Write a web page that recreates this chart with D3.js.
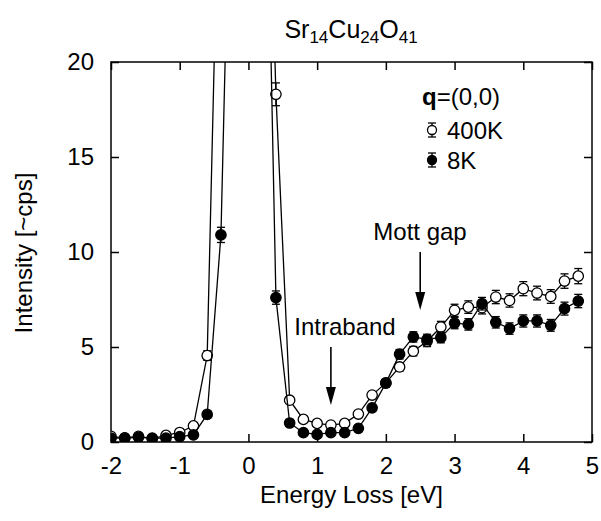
<!DOCTYPE html>
<html>
<head>
<meta charset="utf-8">
<script src="https://cdn.jsdelivr.net/npm/d3@7"></script>
<style>
  body { margin: 0; background: #fff; }
  svg { display: block; font-family: "Liberation Sans", Arial, Helvetica, sans-serif; }
</style>
</head>
<body>
<div id="chart"></div>
<script>
    // energy loss values [eV]
    var energies = [-2.0, -1.8, -1.6, -1.4, -1.2, -1.0, -0.8, -0.6, -0.4, -0.2, 0.0, 0.2,
      0.4, 0.6, 0.8, 1.0, 1.2, 1.4, 1.6, 1.8, 2.0, 2.2, 2.4, 2.6, 2.8, 3.0, 3.2, 3.4,
      3.6, 3.8, 4.0, 4.2, 4.4, 4.6, 4.8];

    // 400K (open circles)
    var hot = [0.30, 0.22, 0.30, 0.18, 0.35, 0.50, 0.85, 4.55, 35, 150, 400, 44,
      18.3, 2.2, 1.19, 0.98, 0.89, 0.98, 1.47, 2.47, 3.11, 3.95, 4.78, 5.3, 6.05, 6.93, 7.1, 7.07,
      7.63, 7.45, 8.07, 7.84, 7.66, 8.47, 8.73];
    var hotErr = [0.12, 0.1, 0.12, 0.1, 0.12, 0.12, 0.15, 0.25, 0.8, 1.5, 3, 0.8,
      0.6, 0.15, 0.12, 0.12, 0.12, 0.12, 0.15, 0.18, 0.2, 0.22, 0.25, 0.28, 0.3, 0.32, 0.33, 0.33,
      0.35, 0.35, 0.37, 0.36, 0.36, 0.38, 0.4];

    // 8K (filled circles)
    var cold = [0.20, 0.20, 0.25, 0.20, 0.20, 0.28, 0.37, 1.45, 10.9, 41, 300, 43,
      7.6, 1.0, 0.49, 0.4, 0.49, 0.49, 0.72, 1.8, 3.1, 4.62, 5.53, 5.4, 5.5, 6.26, 6.19, 7.28,
      6.3, 5.97, 6.37, 6.37, 6.14, 7.02, 7.42];
    var coldErr = [0.1, 0.1, 0.1, 0.1, 0.1, 0.1, 0.12, 0.2, 0.4, 1, 3, 0.8,
      0.35, 0.12, 0.1, 0.1, 0.1, 0.1, 0.12, 0.15, 0.2, 0.25, 0.27, 0.27, 0.28, 0.3, 0.3, 0.33,
      0.3, 0.3, 0.32, 0.32, 0.31, 0.34, 0.35];

    var xTicks = [-2, -1, 0, 1, 2, 3, 4, 5];
    var yTicks = [0, 5, 10, 15, 20];

    var series = [
      { name: "400K", values: hot, errs: hotErr, fill: "#fff" },
      { name: "8K", values: cold, errs: coldErr, fill: "#000" }
    ];

    var W = 601, H = 521;
    var pLeft = 111, pRight = 592, pTop = 62, pBottom = 442;
    var fs = 24;

    var svg = d3.select("#chart")
      .append("svg")
      .attr("width", W)
      .attr("height", H);

    var x = d3.scaleLinear().domain([-2, 5]).range([pLeft, pRight]);
    var y = d3.scaleLinear().domain([0, 20]).range([pBottom, pTop]);

    svg.append("clipPath").attr("id", "plotClip")
      .append("rect")
      .attr("x", pLeft).attr("y", pTop)
      .attr("width", pRight - pLeft).attr("height", pBottom - pTop);

    // frame
    svg.append("rect")
      .attr("x", pLeft).attr("y", pTop)
      .attr("width", pRight - pLeft).attr("height", pBottom - pTop)
      .attr("fill", "none").attr("stroke", "#000").attr("stroke-width", 1.5);

    // axes with inward ticks
    var axB = svg.append("g").attr("transform", "translate(0," + pBottom + ")")
      .call(d3.axisBottom(x).tickValues(xTicks).tickSize(-8).tickPadding(15)
        .tickFormat(d3.format("d")));
    var axT = svg.append("g").attr("transform", "translate(0," + pTop + ")")
      .call(d3.axisTop(x).tickValues(xTicks).tickSize(-8).tickFormat(""));
    var axL = svg.append("g").attr("transform", "translate(" + pLeft + ",0)")
      .call(d3.axisLeft(y).tickValues(yTicks).tickSize(-8).tickPadding(17));
    var axR = svg.append("g").attr("transform", "translate(" + pRight + ",0)")
      .call(d3.axisRight(y).tickValues(yTicks).tickSize(-8).tickFormat(""));

    [axB, axT, axL, axR].forEach(function (a) {
      a.select(".domain").remove();
      a.selectAll("line").attr("stroke", "#000").attr("stroke-width", 1.5);
      a.selectAll("text").attr("font-size", fs).attr("fill", "#000")
        .attr("font-family", "'Liberation Sans', Arial, sans-serif");
    });
    axB.selectAll("text").text(function (d) { return d < 0 ? "-" + Math.abs(d) : d; });

    // plot data
    var plot = svg.append("g").attr("clip-path", "url(#plotClip)");

    series.forEach(function (s) {
      var pts = energies.map(function (e, i) { return { e: e, v: s.values[i], err: s.errs[i] }; });

      plot.append("path")
        .datum(pts)
        .attr("fill", "none")
        .attr("stroke", "#000")
        .attr("stroke-width", 1.3)
        .attr("d", d3.line().x(function (d) { return x(d.e); }).y(function (d) { return y(d.v); }));

      var g = plot.selectAll(null).data(pts).enter().append("g");
      g.append("line")
        .attr("x1", function (d) { return x(d.e); }).attr("x2", function (d) { return x(d.e); })
        .attr("y1", function (d) { return y(d.v - d.err); }).attr("y2", function (d) { return y(d.v + d.err); })
        .attr("stroke", "#000").attr("stroke-width", 1.3);
      [-1, 1].forEach(function (sg) {
        g.append("line")
          .attr("x1", function (d) { return x(d.e) - 4; }).attr("x2", function (d) { return x(d.e) + 4; })
          .attr("y1", function (d) { return y(d.v + sg * d.err); }).attr("y2", function (d) { return y(d.v + sg * d.err); })
          .attr("stroke", "#000").attr("stroke-width", 1.3);
      });
      g.append("circle")
        .attr("cx", function (d) { return x(d.e); })
        .attr("cy", function (d) { return y(d.v); })
        .attr("r", 5.2)
        .attr("fill", s.fill)
        .attr("stroke", "#000")
        .attr("stroke-width", 1.3);
    });

    // title
    var title = svg.append("text")
      .attr("x", 351).attr("y", 38)
      .attr("text-anchor", "middle")
      .attr("font-size", 25);
    [["Sr", 0], ["14", 1], ["Cu", 0], ["24", 1], ["O", 0], ["41", 1]].forEach(function (p, i) {
      var t = title.append("tspan").text(p[0]);
      if (p[1]) t.attr("font-size", 17).attr("dy", 5);
      else if (i > 0) t.attr("dy", -5);
    });

    // axis titles
    svg.append("text")
      .attr("x", (pLeft + pRight) / 2).attr("y", 503)
      .attr("text-anchor", "middle")
      .attr("font-size", fs)
      .text("Energy Loss [eV]");
    svg.append("text")
      .attr("transform", "translate(32,253)rotate(-90)")
      .attr("text-anchor", "middle")
      .attr("font-size", fs)
      .text("Intensity [~cps]");

    // legend
    var leg = svg.append("text").attr("x", 422).attr("y", 105).attr("font-size", fs);
    leg.append("tspan").attr("font-weight", "bold").text("q");
    leg.append("tspan").text("=(0,0)");

    series.forEach(function (s, i) {
      var ly = 130 + i * 30;
      svg.append("line").attr("x1", 432).attr("x2", 432).attr("y1", ly - 7).attr("y2", ly + 7)
        .attr("stroke", "#000").attr("stroke-width", 1.3);
      [-7, 7].forEach(function (o) {
        svg.append("line").attr("x1", 428).attr("x2", 436).attr("y1", ly + o).attr("y2", ly + o)
          .attr("stroke", "#000").attr("stroke-width", 1.3);
      });
      svg.append("circle").attr("cx", 432).attr("cy", ly).attr("r", 4.5)
        .attr("fill", s.fill).attr("stroke", "#000").attr("stroke-width", 1.3);
      svg.append("text").attr("x", 447).attr("y", ly + 9).attr("font-size", fs).text(s.name);
    });

    // annotations
    function arrow(e, y0, y1, label, tx, ty) {
      var ax = x(e);
      svg.append("line").attr("x1", ax).attr("x2", ax).attr("y1", y0).attr("y2", y1 - 15)
        .attr("stroke", "#000").attr("stroke-width", 1.6);
      svg.append("path")
        .attr("d", "M" + (ax - 5) + "," + (y1 - 18) + "L" + (ax + 5) + "," + (y1 - 18) + "L" + ax + "," + y1 + "Z")
        .attr("fill", "#000");
      svg.append("text").attr("x", tx).attr("y", ty)
        .attr("text-anchor", "middle").attr("font-size", fs).text(label);
    }
    arrow(1.2, 347, 405, "Intraband", 345, 335);
    arrow(2.5, 252, 310, "Mott gap", 420, 240);
</script>
</body>
</html>
